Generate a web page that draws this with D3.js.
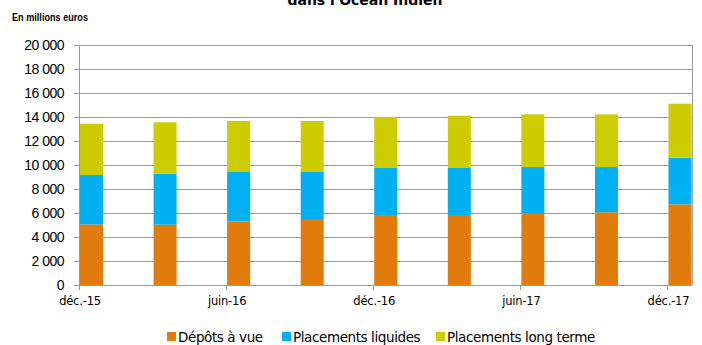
<!DOCTYPE html>
<html>
<head>
<meta charset="utf-8">
<script src="https://cdn.jsdelivr.net/npm/d3@7"></script>
<style>
  body { margin: 0; background: #fff; }
  svg { display: block; }
</style>
</head>
<body>
<svg id="chart" width="702" height="345"></svg>
<script>
// quarterly points, month offsets from déc.-15
const months = [0, 3, 6, 9, 12, 15, 18, 21, 24];
const depots = [5050, 5030, 5300, 5500, 5830, 5830, 5970, 6060, 6720];
const liquides = [4120, 4250, 4120, 3920, 3920, 3920, 3860, 3770, 3890];
const longTerme = [4270, 4280, 4250, 4250, 4250, 4360, 4390, 4390, 4500];
const tickMonths = [0, 6, 12, 18, 24];
const tickLabels = ["déc.-15", "juin-16", "déc.-16", "juin-17", "déc.-17"];
const seriesNames = ["Dépôts à vue", "Placements liquides", "Placements long terme"];
const colors = ["#E07B0C", "#00B0F0", "#CCCC00"];

const svg = d3.select("#chart");
const plotL = 79, plotR = 692, plotT = 45, plotB = 285;

const x = d3.scaleLinear().domain([0, 25]).range([plotL, plotR]);
const y = d3.scaleLinear().domain([0, 20000]).range([plotB, plotT]);

// title (cut off at the top in the original)
svg.append("text")
  .attr("x", 365).attr("y", 5)
  .attr("text-anchor", "middle")
  .style("font-family", "DejaVu Sans, Verdana, sans-serif")
  .style("font-weight", "bold")
  .style("font-size", "14px")
  .text("dans l'Océan Indien");

svg.append("text")
  .attr("x", 12).attr("y", 21)
  .attr("textLength", 76)
  .attr("lengthAdjust", "spacingAndGlyphs")
  .style("font-family", "Liberation Sans, sans-serif")
  .style("font-weight", "bold")
  .style("font-size", "11px")
  .text("En millions euros");

// gridlines
const ticksY = d3.range(0, 20001, 2000);
svg.append("g")
  .selectAll("line")
  .data(ticksY)
  .join("line")
  .attr("x1", plotL - 5).attr("x2", plotR)
  .attr("y1", d => Math.round(y(d)) + 0.5).attr("y2", d => Math.round(y(d)) + 0.5)
  .attr("stroke", "#9a9a9a");

// right border
svg.append("line")
  .attr("x1", plotR + 0.5).attr("x2", plotR + 0.5)
  .attr("y1", plotT).attr("y2", plotB)
  .attr("stroke", "#9a9a9a");

// y labels
const fmt = d => d === 0 ? "0" : d3.format(",")(d).replace(",", " ");
svg.append("g")
  .selectAll("text")
  .data(ticksY)
  .join("text")
  .attr("x", 64).attr("y", d => y(d) + 5)
  .attr("text-anchor", "end")
  .style("font-family", "Liberation Sans, Arial, sans-serif")
  .style("font-size", "14px")
  .style("letter-spacing", "-0.5px")
  .text(fmt);

// stacked bars
const rows = months.map((m, i) => ({ m: m, a: depots[i], b: liquides[i], c: longTerme[i] }));
const stack = d3.stack().keys(["a", "b", "c"])(rows);

svg.append("g")
  .selectAll("g")
  .data(stack)
  .join("g")
  .attr("fill", (d, i) => colors[i])
  .selectAll("rect")
  .data(d => d)
  .join("rect")
  .attr("x", d => x(d.data.m) + 1)
  .attr("width", d => x(d.data.m + 1) - x(d.data.m) - 1.5)
  .attr("y", d => y(d[1]))
  .attr("height", d => y(d[0]) - y(d[1]));

// axes lines
svg.append("line")
  .attr("x1", plotL + 0.5).attr("x2", plotL + 0.5)
  .attr("y1", plotT).attr("y2", plotB + 5)
  .attr("stroke", "#9a9a9a");
svg.append("line")
  .attr("x1", plotL).attr("x2", plotR)
  .attr("y1", plotB + 0.5).attr("y2", plotB + 0.5)
  .attr("stroke", "#9a9a9a");

svg.append("g")
  .selectAll("line")
  .data(tickMonths)
  .join("line")
  .attr("x1", d => Math.round(x(d)) + 0.5).attr("x2", d => Math.round(x(d)) + 0.5)
  .attr("y1", plotB).attr("y2", plotB + 5)
  .attr("stroke", "#9a9a9a");

svg.append("g")
  .selectAll("text")
  .data(tickMonths)
  .join("text")
  .attr("x", d => x(d) + 1)
  .attr("y", 305)
  .attr("text-anchor", "middle")
  .style("font-family", "DejaVu Sans, Verdana, sans-serif")
  .style("font-size", "11.5px")
  .style("letter-spacing", "-0.2px")
  .text((d, i) => tickLabels[i]);

// legend
const legendX = [167, 282, 436];
const legend = svg.append("g")
  .selectAll("g")
  .data(seriesNames)
  .join("g")
  .attr("transform", (d, i) => `translate(${legendX[i]},337)`);
legend.append("rect")
  .attr("x", 0).attr("y", -5)
  .attr("width", 9).attr("height", 9)
  .attr("fill", (d, i) => colors[i]);
legend.append("text")
  .attr("x", 11).attr("y", 5)
  .style("font-family", "DejaVu Sans, Verdana, sans-serif")
  .style("font-size", "13.5px")
  .style("letter-spacing", "-0.4px")
  .text(d => d);
</script>
</body>
</html>
